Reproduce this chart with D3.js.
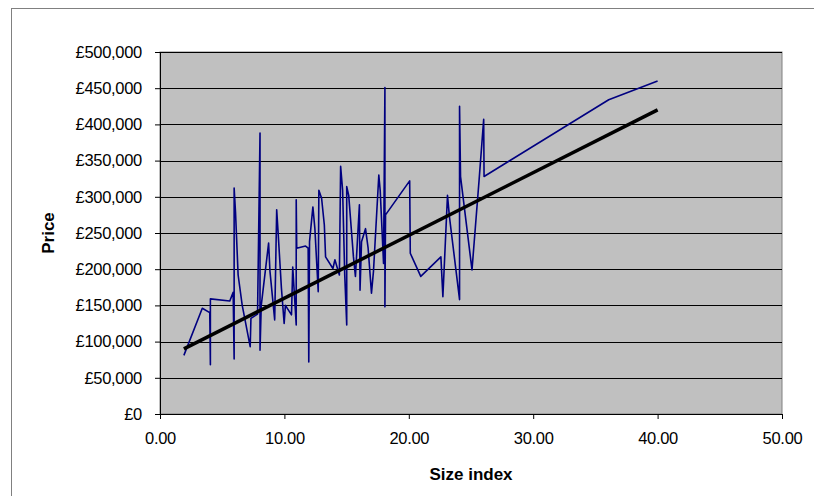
<!DOCTYPE html>
<html>
<head>
<meta charset="utf-8">
<script src="https://cdn.jsdelivr.net/npm/d3@7"></script>
<style>
  body { margin: 0; background: #fff; }
  svg { display: block; font-family: "Liberation Sans", Arial, sans-serif; }
</style>
</head>
<body>
<div id="chart"></div>
<script>
// size index of each property, in plotted order
const sizeIndex = [
  1.92, 3.40, 4.00, 4.05, 4.05, 5.61, 5.88, 5.96, 5.96, 6.07,
  6.28, 6.61, 7.25, 7.31, 7.84, 8.04, 8.04, 8.14, 8.73, 8.84,
  9.22, 9.38, 9.49, 9.76, 9.98, 10.08, 10.57, 10.67, 10.95, 10.95,
  10.99, 11.70, 11.91, 11.96, 12.02, 12.29, 12.45, 12.72, 12.77, 12.99,
  13.21, 13.31, 13.90, 14.06, 14.42, 14.52, 14.68, 14.85, 15.01, 15.01,
  15.17, 15.55, 15.71, 16.03, 16.08, 16.20, 16.52, 16.73, 17.00, 17.16,
  17.59, 17.70, 17.97, 18.08, 18.08, 18.13, 20.07, 20.12, 20.96, 22.58,
  22.74, 23.11, 23.27, 24.08, 24.08, 24.16, 25.08, 25.65, 26.02, 26.05,
  36.07, 40.00
];
// price of each property (GBP)
const price = [
  81000, 146000, 140000, 68000, 159000, 156000, 168000, 76000, 312000, 279000,
  192000, 150000, 93000, 132000, 138000, 388000, 88000, 150000, 236000, 197000,
  130000, 282000, 252000, 174000, 125000, 150000, 137000, 203000, 123000, 296000,
  229000, 232000, 229000, 72000, 238000, 286000, 256000, 169000, 309000, 298000,
  261000, 217000, 201000, 213000, 192000, 342000, 309000, 192000, 123000, 314000,
  302000, 217000, 190000, 289000, 171000, 238000, 256000, 229000, 167000, 197000,
  330000, 309000, 208000, 451000, 148000, 275000, 322000, 222000, 190000, 217000,
  162000, 302000, 272000, 158000, 425000, 328000, 199000, 323000, 407000, 328000,
  434000, 460000
];
// linear trend line end points
const trendX = [1.92, 40.00];
const trendY = [90000, 420000];

const xTicks = [0, 10, 20, 30, 40, 50];
const yTicks = [0, 50000, 100000, 150000, 200000, 250000, 300000, 350000, 400000, 450000, 500000];

const width = 814, height = 496;
const margin = {left: 160, top: 52, right: 32, bottom: 82};

const svg = d3.select('#chart').append('svg')
    .attr('width', width)
    .attr('height', height);

// chart area border
svg.append('rect')
    .attr('x', 11.5).attr('y', 8.5)
    .attr('width', 900).attr('height', 700)
    .attr('fill', '#fff')
    .attr('stroke', '#808080');

const x = d3.scaleLinear().domain([0, 50]).range([margin.left, width - margin.right]);
const y = d3.scaleLinear().domain([0, 500000]).range([height - margin.bottom, margin.top]);

// plot area
svg.append('rect')
    .attr('x', x(0)).attr('y', y(500000))
    .attr('width', x(50) - x(0)).attr('height', y(0) - y(500000))
    .attr('fill', '#c0c0c0')
    .attr('stroke', '#808080');

// gridlines
svg.append('g')
    .selectAll('line')
    .data(yTicks.slice(1))
    .join('line')
    .attr('x1', x(0)).attr('x2', x(50))
    .attr('y1', d => Math.round(y(d)) + 0.5)
    .attr('y2', d => Math.round(y(d)) + 0.5)
    .attr('stroke', '#000');

const fmtPrice = d => '£' + d3.format(',')(d);

const yAxis = svg.append('g')
    .attr('transform', `translate(${x(0)},0)`)
    .call(d3.axisLeft(y).tickValues(yTicks).tickFormat(fmtPrice).tickSize(5).tickPadding(13));

const xAxis = svg.append('g')
    .attr('transform', `translate(0,${y(0)})`)
    .call(d3.axisBottom(x).tickValues(xTicks).tickFormat(d3.format('.2f')).tickSize(5).tickPadding(13));

[yAxis, xAxis].forEach(a => {
    a.select('.domain').attr('stroke', '#000');
    a.selectAll('.tick line').attr('stroke', '#000');
    a.selectAll('text')
        .attr('fill', '#000')
        .style('font-size', '16.5px')
        .style('letter-spacing', '-0.3px')
        .style('font-family', '"Liberation Sans", Arial, sans-serif');
});

// data line
const pts = sizeIndex.map((d, i) => [d, price[i]]);
const line = d3.line().x(d => x(d[0])).y(d => y(d[1]));

svg.append('path')
    .datum(pts)
    .attr('d', line)
    .attr('fill', 'none')
    .attr('stroke', '#000080')
    .attr('stroke-width', 1.6)
    .attr('stroke-linejoin', 'round');

// trend line
svg.append('path')
    .datum(trendX.map((d, i) => [d, trendY[i]]))
    .attr('d', line)
    .attr('fill', 'none')
    .attr('stroke', '#000')
    .attr('stroke-width', 3.5);

// axis titles
svg.append('text')
    .attr('x', (x(0) + x(50)) / 2)
    .attr('y', 480)
    .attr('text-anchor', 'middle')
    .style('font-size', '17px')
    .style('font-weight', 'bold')
    .text('Size index');

svg.append('text')
    .attr('transform', `translate(54,${(y(0) + y(500000)) / 2}) rotate(-90)`)
    .attr('text-anchor', 'middle')
    .style('font-size', '17px')
    .style('font-weight', 'bold')
    .text('Price');
</script>
</body>
</html>
